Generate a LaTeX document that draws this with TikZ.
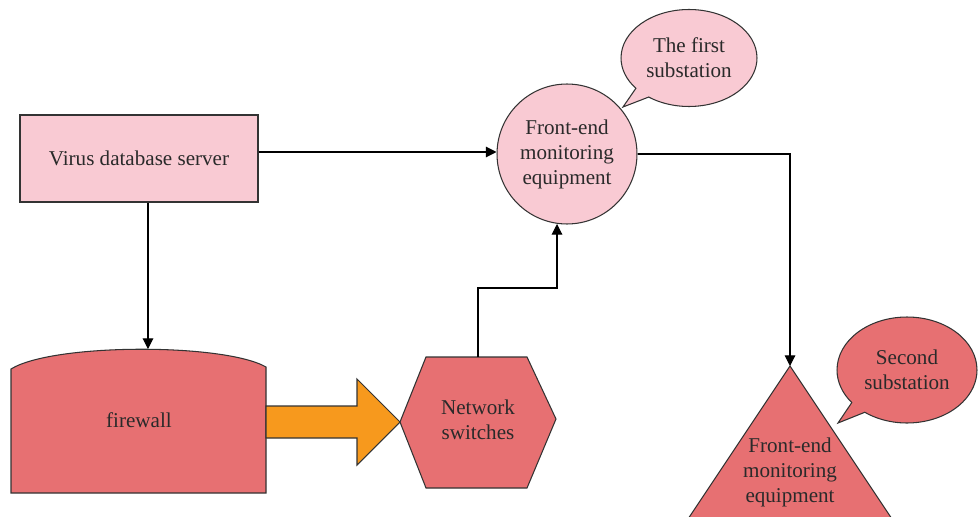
\documentclass[tikz,border=0pt]{standalone}
\usepackage{fontspec}
\setmainfont{Liberation Serif}
\usetikzlibrary{shapes.callouts,arrows.meta,calc}
\definecolor{pinkfill}{HTML}{F9CAD3}
\definecolor{redfill}{HTML}{E77072}
\definecolor{orangefill}{HTML}{F7991D}
\definecolor{edgecol}{HTML}{333333}
\definecolor{txtcol}{HTML}{2A2A2A}
\begin{document}
\begin{tikzpicture}[x=0.02cm,y=-0.02cm,
  every node/.style={font=\fontsize{12}{14.2}\selectfont, text=txtcol, align=center},
  shapeline/.style={draw=edgecol, line width=0.6pt},
  arr/.style={draw=black, line width=0.6pt, -{Triangle[length=6pt,width=6pt]}},
  calloutbox/.style={ellipse callout, shapeline, inner sep=0pt}]
\useasboundingbox (0,0) rectangle (980,517);
\clip (0,0) rectangle (980,517);

% Virus database server
\node[shapeline, fill=pinkfill, minimum width=4.76cm, minimum height=1.74cm, inner sep=0pt] (virus) at (139,158.5) {Virus database server};

% Front-end monitoring equipment (circle)
\node[circle, shapeline, fill=pinkfill, minimum size=2.8cm, inner sep=0pt] (circ) at (567,154) {Front-end\\monitoring\\equipment};

% callout 1
\coordinate (c1tip) at (623,107);
\node[calloutbox, fill=pinkfill, minimum width=2.72cm, minimum height=1.94cm, callout absolute pointer={(c1tip)}] (call1) at (689,58) {The first\\substation};

% firewall
\draw[shapeline, fill=redfill] (11,369) -- (11,493) -- (266,493) -- (266,367) .. controls (224,343) and (53,343) .. (11,369) -- cycle;
\node (fw) at (139,420) {firewall};
\coordinate (fwtop) at (148,349);

% orange arrow
\coordinate (oa1) at (266,406);
\coordinate (oa2) at (357,406);
\coordinate (oa3) at (357,379);
\coordinate (oatip) at (400,422);
\coordinate (oa5) at (357,465);
\coordinate (oa6) at (357,438);
\coordinate (oa7) at (266,438);
\draw[shapeline, fill=orangefill] (oa1) -- (oa2) -- (oa3) -- (oatip) -- (oa5) -- (oa6) -- (oa7) -- cycle;

% hexagon
\coordinate (hexl) at (400,422);
\coordinate (hextl) at (426,357);
\coordinate (hextr) at (527,357);
\coordinate (hexr) at (556,419);
\coordinate (hexbr) at (527,488);
\coordinate (hexbl) at (426,488);
\coordinate (hextop) at (478,357);
\draw[shapeline, fill=redfill] (hexl) -- (hextl) -- (hextr) -- (hexr) -- (hexbr) -- (hexbl) -- cycle;
\node (hex) at (478,420) {Network\\switches};

% triangle
\coordinate (triapex) at (790,366);
\coordinate (tril) at (650,576);
\coordinate (trir) at (930,576);
\draw[shapeline, fill=redfill] (triapex) -- (trir) -- (tril) -- cycle;
\node (tri) at (790,472) {Front-end\\monitoring\\equipment};

% callout 2
\coordinate (c2tip) at (838,423);
\node[calloutbox, fill=redfill, minimum width=2.8cm, minimum height=2.12cm, callout absolute pointer={(c2tip)}] (call2) at (907,370) {Second\\substation};

% connectors
\coordinate (cbot) at (557,224);
\draw[arr] (virus.east |- 0,152) -- (circ.west |- 0,152);
\draw[arr] (virus.south -| fwtop) -- (fwtop);
\draw[arr] (hextop) -- ++(0,-69) -| (cbot);
\draw[arr] (circ.east) -| (triapex);
\end{tikzpicture}
\end{document}
